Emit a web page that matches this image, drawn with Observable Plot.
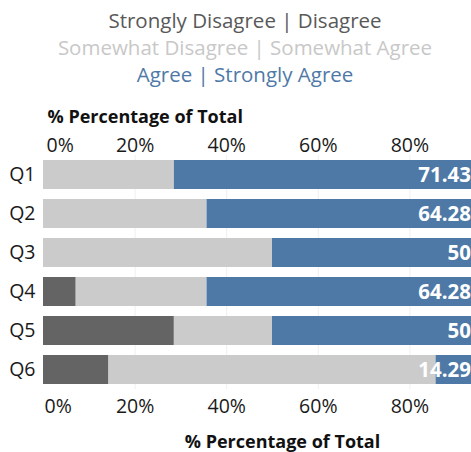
<!DOCTYPE html>
<html>
<head>
<meta charset="utf-8">
<script src="https://cdn.jsdelivr.net/npm/d3@7"></script>
<script src="https://cdn.jsdelivr.net/npm/@observablehq/plot@0.6"></script>
<style>
  html, body { margin: 0; padding: 0; background: #fff; }
  #wrap { width: 471px; height: 452px; overflow: hidden; position: relative; }
  #titles { width: 490px; height: 100px; box-sizing: border-box; padding-top: 7px; font-family: "Open Sans", sans-serif; font-size: 20.5px; line-height: 27px; text-align: center; }
  #chart { width: 502px; }
</style>
</head>
<body>
<div id="wrap">
  <div id="titles"></div>
  <div id="chart"></div>
</div>
<script>
const questions = ["Q1", "Q2", "Q3", "Q4", "Q5", "Q6"];
const categories = ["Strongly Disagree | Disagree", "Somewhat Disagree | Somewhat Agree", "Agree | Strongly Agree"];
const colors = ["#646464", "#cbcbcb", "#4e79a7"];
const disagree = [0, 0, 0, 7.14, 28.57, 14.29];
const somewhat = [28.57, 35.71, 50, 28.57, 21.43, 71.43];
const agree = [71.43, 64.28, 50, 64.28, 50, 14.29];
const agreeLabels = ["71.43%", "64.28%", "50%", "64.28%", "50%", "14.29%"];
const xTicks = [0, 20, 40, 60, 80];
const axisTitle = "% Percentage of Total";

const titles = document.getElementById("titles");
categories.forEach((c, i) => {
  const d = document.createElement("div");
  d.textContent = c;
  d.style.color = i === 0 ? "#595959" : i === 1 ? "#c8c8c8" : "#4e79a7";
  titles.appendChild(d);
});

const series = [disagree, somewhat, agree];
const data = [];
questions.forEach((q, qi) => {
  categories.forEach((c, ci) => {
    data.push({ q, cat: c, value: series[ci][qi] });
  });
});
const labels = questions.map((q, i) => ({ q, label: agreeLabels[i] }));

const font = "'Open Sans', sans-serif";
const tickFont = 19.5;
const plot = Plot.plot({
  width: 502,
  height: 352,
  marginLeft: 43,
  marginRight: 1,
  marginTop: 55,
  marginBottom: 63,
  style: { fontFamily: font, background: "transparent", overflow: "visible" },
  x: { domain: [0, 100] },
  y: { domain: questions, paddingInner: 0.25, paddingOuter: 0.125 },
  color: { domain: categories, range: colors },
  marks: [
    Plot.gridX(xTicks.slice(1), { stroke: "#efefef", strokeOpacity: 1 }),
    Plot.barX(data, Plot.stackX({ x: "value", y: "q", fill: "cat", order: categories })),
    Plot.text(labels, { y: "q", text: "label", frameAnchor: "right", textAnchor: "end", dx: -12, fill: "white", fontWeight: "bold", fontSize: 20.5 }),
    Plot.axisY({ tickSize: 0, tickPadding: 8, fontSize: tickFont, fill: "#1a1a1a", label: null }),
    Plot.axisX(xTicks.slice(1), { anchor: "top", tickSize: 0, tickPadding: 4, fontSize: tickFont, fill: "#1a1a1a", tickFormat: d => d + "%", label: null }),
    Plot.axisX([0], { anchor: "top", tickSize: 0, tickPadding: 4, fontSize: tickFont, fill: "#1a1a1a", textAnchor: "start", dx: 3, tickFormat: d => d + "%", label: null }),
    Plot.axisX(xTicks.slice(1), { anchor: "bottom", tickSize: 0, tickPadding: 10, fontSize: tickFont, fill: "#1a1a1a", tickFormat: d => d + "%", label: null }),
    Plot.axisX([0], { anchor: "bottom", tickSize: 0, tickPadding: 10, fontSize: tickFont, fill: "#1a1a1a", textAnchor: "start", dx: 1, tickFormat: d => d + "%", label: null }),
    Plot.text([axisTitle], { frameAnchor: "top-left", lineAnchor: "middle", textAnchor: "start", dx: 4, dy: -38, fontSize: 18, fontWeight: "bold", fill: "#111" }),
    Plot.text([axisTitle], { frameAnchor: "bottom", lineAnchor: "middle", dx: 10, dy: 53, fontSize: 18, fontWeight: "bold", fill: "#111" })
  ]
});
document.getElementById("chart").appendChild(plot);
</script>
</body>
</html>
